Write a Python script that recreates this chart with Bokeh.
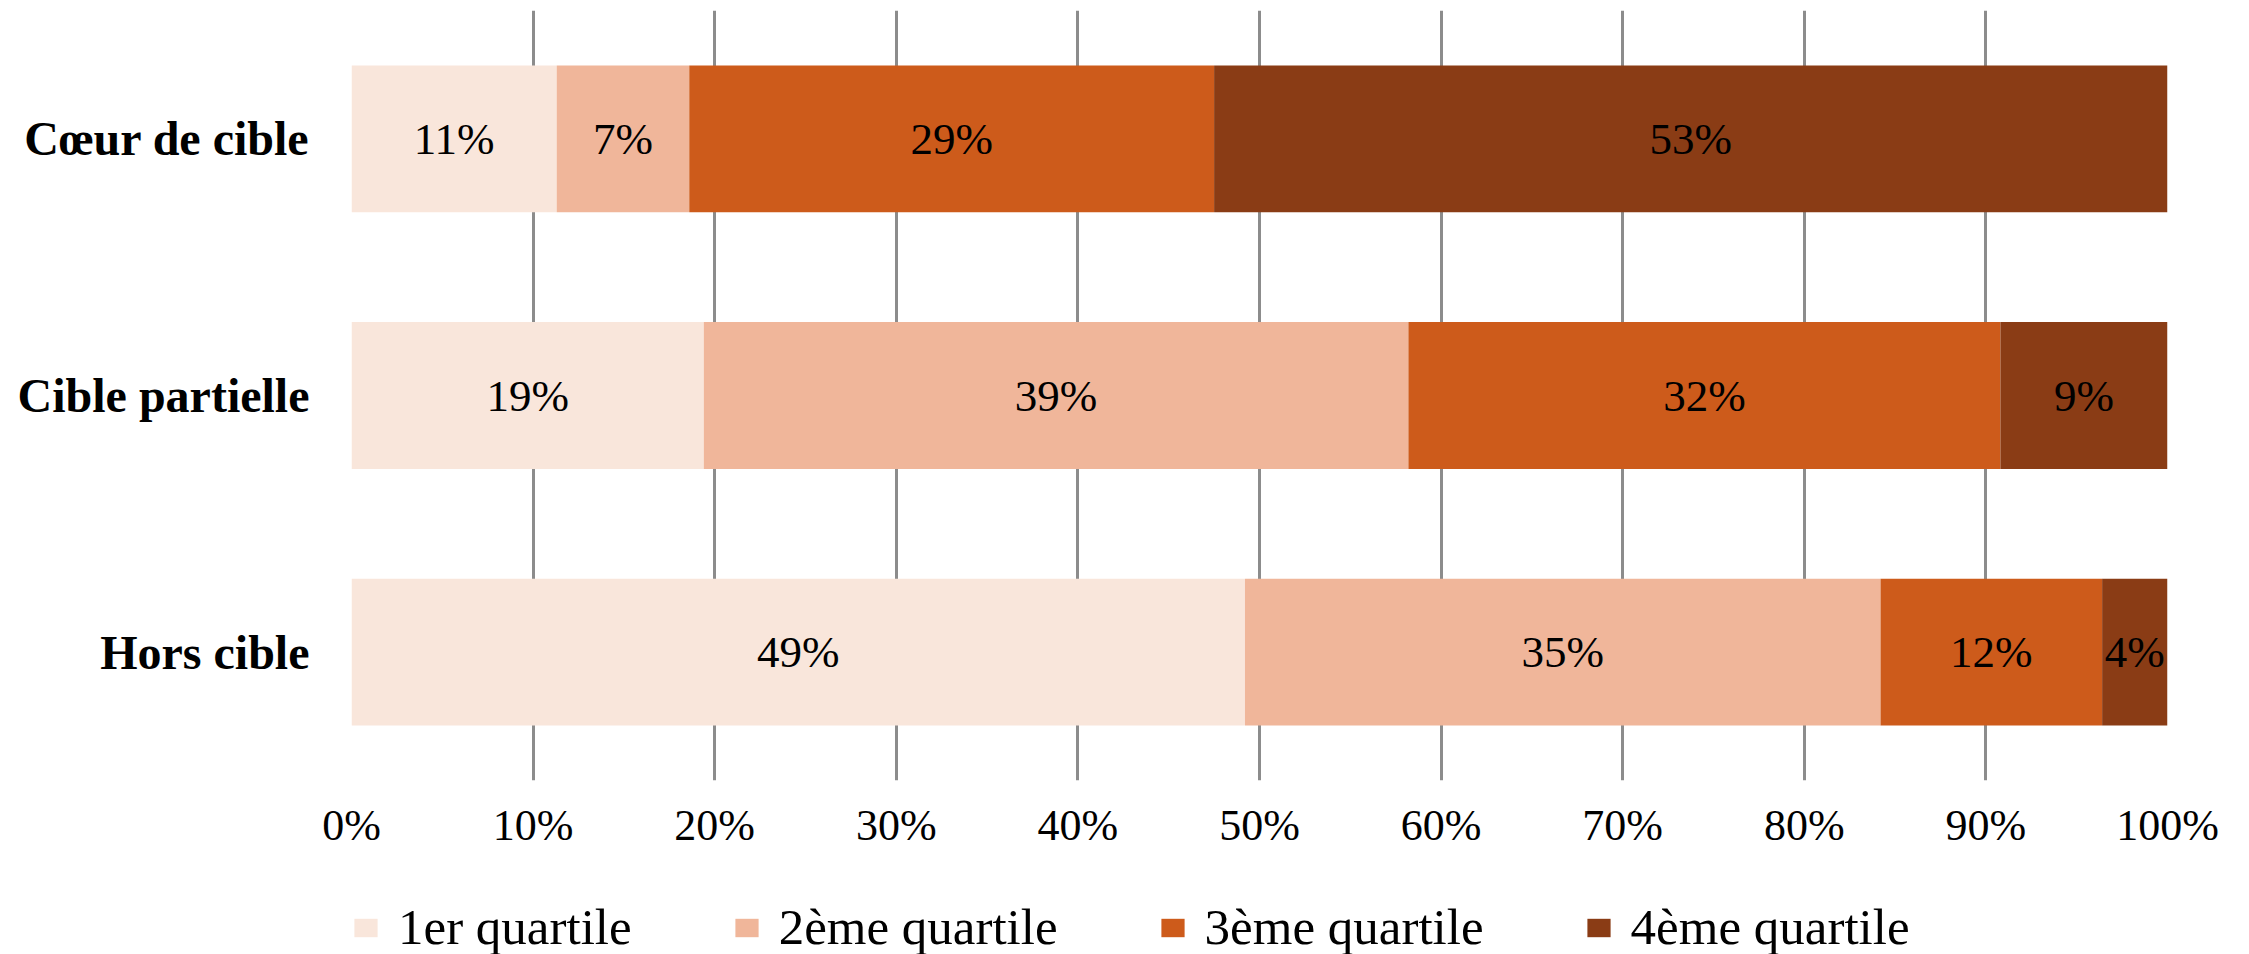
from bokeh.plotting import figure
from bokeh.models import (ColumnDataSource, FactorRange, Range1d, FixedTicker,
                          PrintfTickFormatter, Legend, LegendItem)
from bokeh.layouts import column
from bokeh.core.properties import value
from bokeh.embed import file_html
from bokeh.resources import INLINE

# ---- data ----
categories = ["Cœur de cible", "Cible partielle", "Hors cible"]
series_names = ["1er quartile", "2ème quartile", "3ème quartile", "4ème quartile"]
q1 = [11.3, 19.4, 49.2]
q2 = [7.3, 38.8, 35.0]
q3 = [28.9, 32.6, 12.2]
q4 = [52.5, 9.2, 3.6]
labels_q1 = ["11%", "19%", "49%"]
labels_q2 = ["7%", "39%", "35%"]
labels_q3 = ["29%", "32%", "12%"]
labels_q4 = ["53%", "9%", "4%"]
x_ticks = [0, 10, 20, 30, 40, 50, 60, 70, 80, 90, 100]
colors = ["#F9E6DB", "#F0B69A", "#CD5B1B", "#8A3C15"]

series = [q1, q2, q3, q4]
label_sets = [labels_q1, labels_q2, labels_q3, labels_q4]

FONT = "Liberation Serif"

p = figure(width=2249, height=860, output_backend="svg", toolbar_location=None,
           y_range=FactorRange(*categories[::-1]), x_range=Range1d(0, 100),
           min_border_left=351, min_border_right=82, min_border_top=10,
           min_border_bottom=80)
p.outline_line_color = None

data = {"cat": categories}
for name, vals in zip(series_names, series):
    data[name] = vals
src = ColumnDataSource(data)

p.hbar_stack(series_names, y="cat", height=0.572, source=src,
             color=colors, line_color=None)

# labels centred in each segment
cum = [0.0] * len(categories)
for vals, labs in zip(series, label_sets):
    centers = [c + v / 2 for c, v in zip(cum, vals)]
    cum = [c + v for c, v in zip(cum, vals)]
    lsrc = ColumnDataSource(dict(x=centers, y=categories, t=labs))
    p.text(x="x", y="y", text="t", source=lsrc, text_align="center",
           text_baseline="middle", text_font=value(FONT),
           text_font_size="45px", text_color="black")

# axes
p.xaxis.ticker = FixedTicker(ticks=x_ticks)
p.xaxis.formatter = PrintfTickFormatter(format="%d%%")
p.xaxis.axis_line_color = None
p.xaxis.major_tick_line_color = None
p.xaxis.minor_tick_line_color = None
p.xaxis.major_label_text_font = FONT
p.xaxis.major_label_text_font_size = "44px"
p.xaxis.major_label_text_color = "black"
p.xaxis.major_label_standoff = 14

p.yaxis.axis_line_color = None
p.yaxis.major_tick_line_color = None
p.yaxis.minor_tick_line_color = None
p.yaxis.major_label_text_font = FONT
p.yaxis.major_label_text_font_size = "48px"
p.yaxis.major_label_text_font_style = "bold"
p.yaxis.major_label_text_color = "black"
p.yaxis.major_label_standoff = 36

p.xgrid.ticker = FixedTicker(ticks=x_ticks)
p.xgrid.grid_line_color = "#8c8c8c"
p.xgrid.grid_line_width = 3
p.ygrid.grid_line_color = None

# ---- legend strip ----
lf = figure(width=2249, height=94, output_backend="svg", toolbar_location=None,
            x_range=Range1d(0, 1), y_range=Range1d(0, 1),
            x_axis_type=None, y_axis_type=None,
            min_border_left=351, min_border_right=82, min_border_top=0,
            min_border_bottom=0)
lf.outline_line_color = None
lf.xgrid.visible = False
lf.ygrid.visible = False

# legend swatches come from bars with no drawable data
hidden = ColumnDataSource(dict(y=[float("nan")], left=[float("nan")], right=[float("nan")]))
items = []
for name, col in zip(series_names, colors):
    r = lf.hbar(y="y", left="left", right="right", height=0.5, source=hidden,
                fill_color=col, line_color=None)
    items.append(LegendItem(label=name, renderers=[r]))

legend = Legend(items=items, orientation="horizontal", location=(0, -2),
                glyph_width=29, glyph_height=23, label_standoff=18, spacing=100,
                padding=0, margin=0, border_line_color=None,
                background_fill_alpha=0,
                label_text_font=FONT, label_text_font_size="51px",
                label_text_color="black")
lf.add_layout(legend, "center")

layout = column(p, lf, spacing=0)
open("out.html", "w").write(file_html(layout, INLINE))
